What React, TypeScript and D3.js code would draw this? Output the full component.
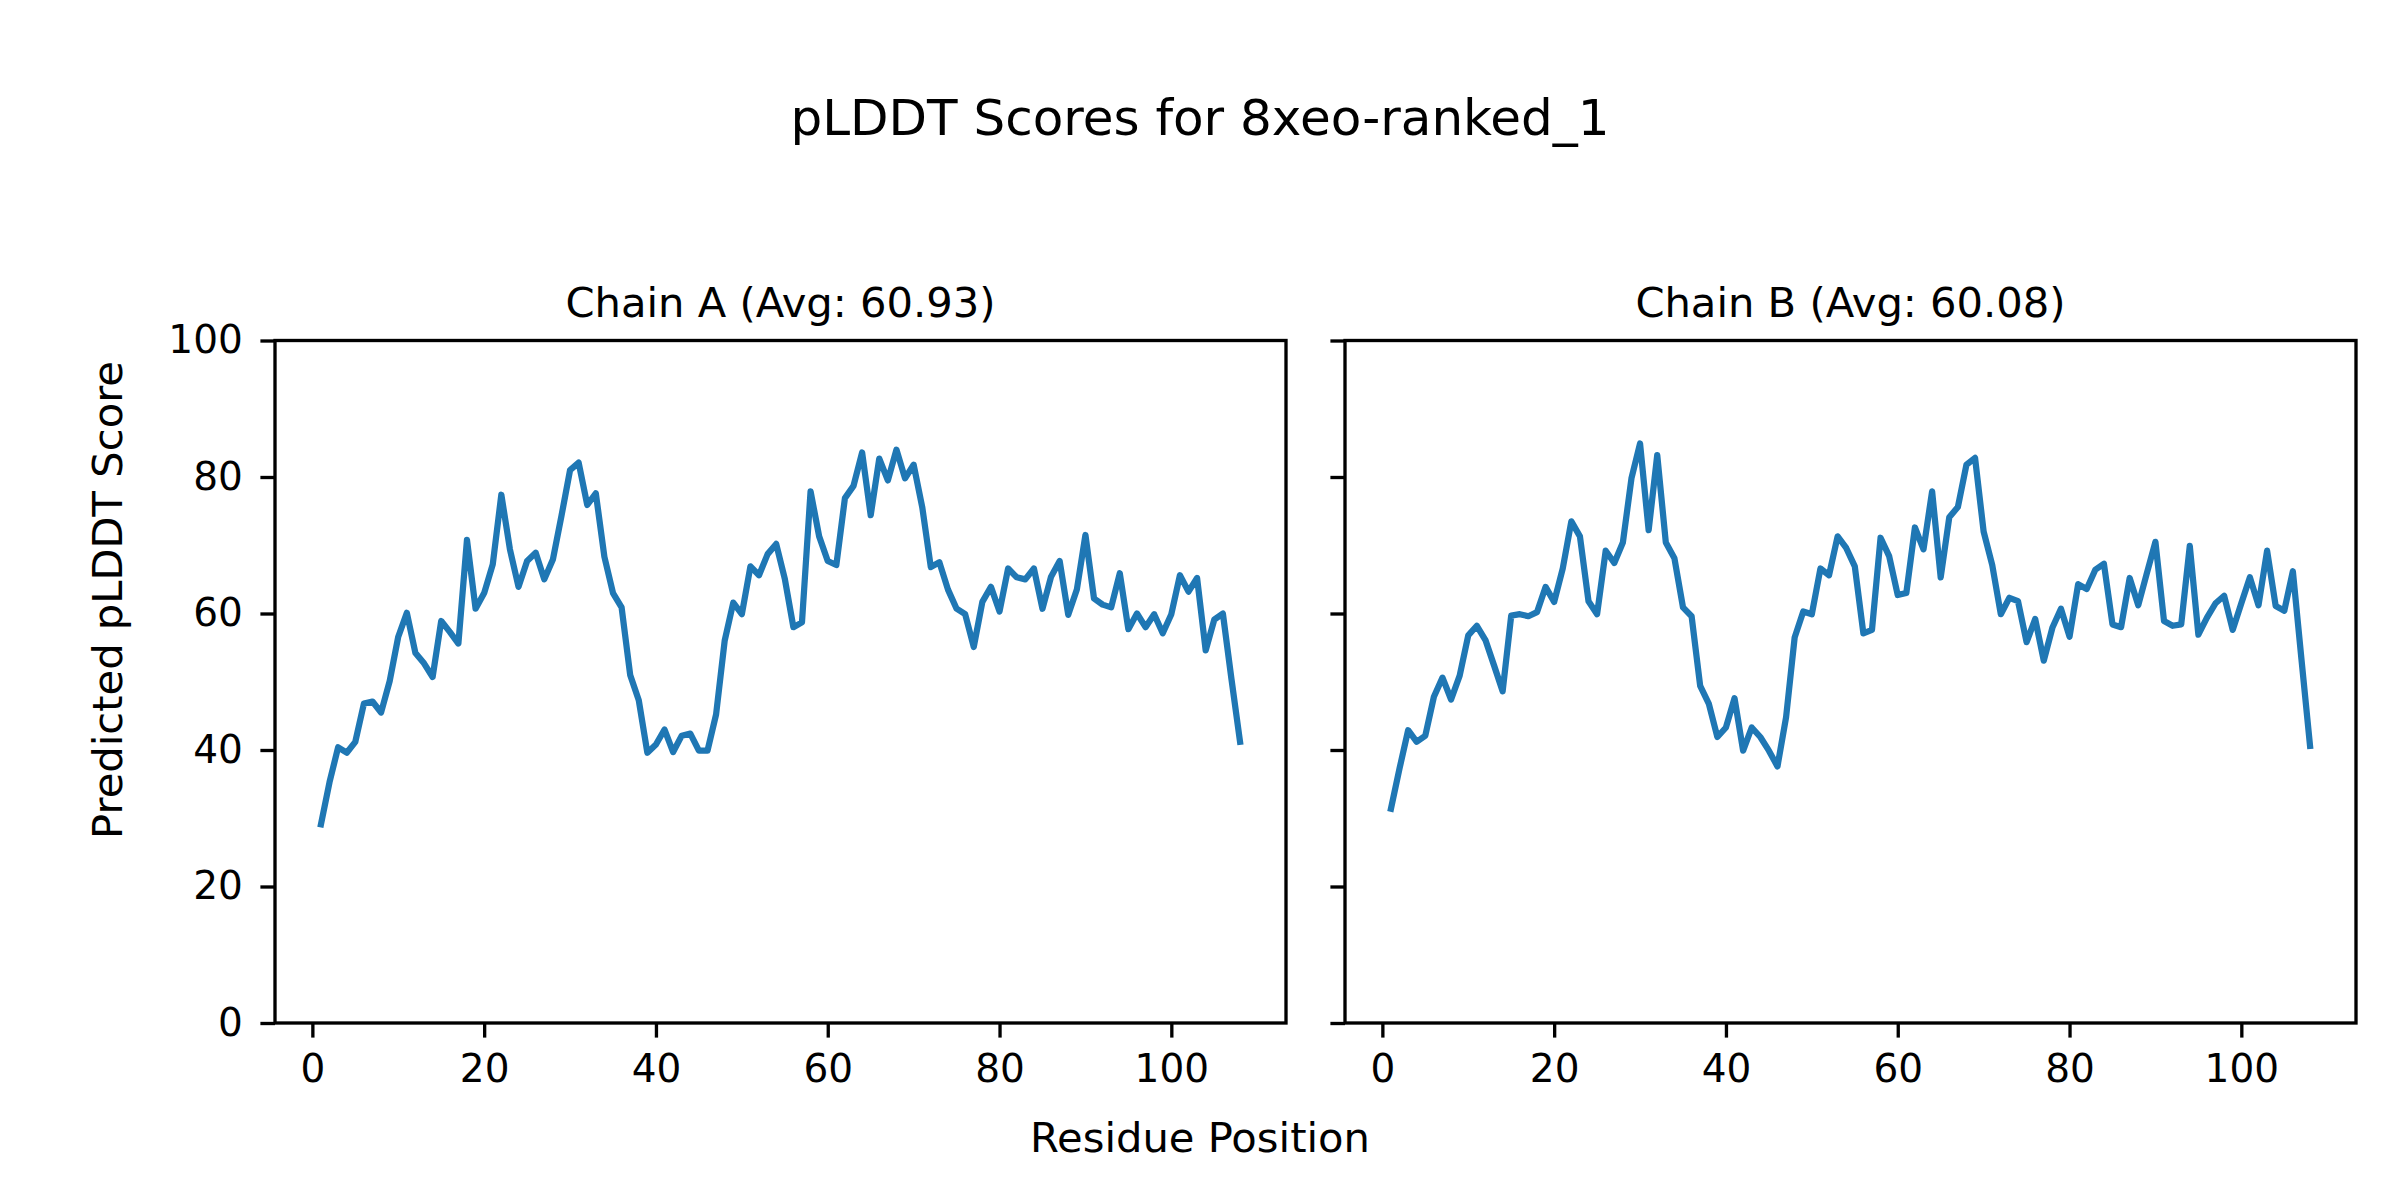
import React, { useEffect, useRef } from 'react';
import * as d3 from 'd3';

// pLDDT per residue
const chainA = [
  29.1, 35.3, 40.4, 39.6, 41.2, 46.8, 47.1, 45.5, 50.1, 56.6,
  60.1, 54.2, 52.7, 50.7, 58.9, 57.3, 55.6, 70.8, 60.7, 63.0,
  67.2, 77.4, 69.4, 63.9, 67.7, 68.9, 65.0, 67.9, 74.3, 81.0,
  82.1, 75.9, 77.6, 68.3, 63.0, 60.9, 51.0, 47.3, 39.6, 40.8,
  43.0, 39.7, 42.1, 42.4, 39.9, 39.9, 45.2, 56.0, 61.6, 59.9,
  66.9, 65.6, 68.7, 70.2, 65.1, 58.0, 58.7, 77.9, 71.3, 67.7,
  67.1, 76.9, 78.7, 83.6, 74.4, 82.7, 79.5, 84.0, 79.8, 81.8,
  75.6, 66.8, 67.5, 63.5, 60.7, 59.9, 55.1, 61.7, 63.9, 60.3,
  66.6, 65.3, 65.0, 66.6, 60.7, 65.4, 67.7, 59.8, 63.5, 71.5,
  62.2, 61.3, 60.9, 65.9, 57.7, 60.0, 58.0, 59.9, 57.1, 59.9,
  65.6, 63.2, 65.2, 54.6, 59.1, 60.0, 50.4, 41.2,
];

const chainB = [
  31.4, 37.3, 42.9, 41.2, 42.1, 47.8, 50.6, 47.4, 50.9, 56.8,
  58.2, 56.1, 52.4, 48.6, 59.7, 59.9, 59.6, 60.2, 63.9, 61.7,
  66.6, 73.5, 71.3, 61.8, 59.9, 69.2, 67.4, 70.4, 79.8, 84.9,
  72.2, 83.2, 70.4, 68.1, 60.9, 59.6, 49.4, 46.8, 41.9, 43.3,
  47.6, 39.9, 43.3, 41.9, 39.9, 37.6, 44.8, 56.5, 60.3, 59.9,
  66.6, 65.6, 71.3, 69.6, 66.9, 57.1, 57.6, 71.1, 68.4, 62.7,
  63.0, 72.6, 69.4, 77.9, 65.3, 74.1, 75.6, 81.8, 82.8, 72.0,
  67.1, 59.9, 62.3, 61.8, 55.8, 59.2, 53.1, 57.9, 60.7, 56.6,
  64.3, 63.6, 66.4, 67.3, 58.4, 58.0, 65.2, 61.2, 65.9, 70.5,
  58.9, 58.2, 58.4, 69.9, 56.9, 59.4, 61.5, 62.6, 57.6, 61.5,
  65.3, 61.2, 69.2, 61.1, 60.4, 66.2, 53.3, 40.6,
];

const chainNames = ['A', 'B'];
const chainAverages = ['60.93', '60.08'];
const xTicks = [0, 20, 40, 60, 80, 100];
const yTicks = [0, 20, 40, 60, 80, 100];

export default function App() {
  const ref = useRef<SVGSVGElement>(null);

  useEffect(() => {
    document.body.style.margin = '0';

    const width = 2400;
    const height = 1200;
    const font = '"DejaVu Sans", sans-serif';
    const lw = 3.33; // 0.8pt at 300 dpi
    const tick = 14.6; // 3.5pt
    const tickFont = 39;

    const top = 340.5;
    const bottom = 1023;
    const panels = [
      { left: 275, right: 1286, values: chainA },
      { left: 1345, right: 2356, values: chainB },
    ];

    const svg = d3.select(ref.current);
    svg.selectAll('*').remove();

    svg
      .append('rect')
      .attr('width', width)
      .attr('height', height)
      .attr('fill', '#ffffff');

    const yScale = d3.scaleLinear().domain([0, 100]).range([bottom, top]);

    panels.forEach((p, i) => {
      const residues = p.values.map((_, j) => j + 1);
      const [lo, hi] = d3.extent(residues) as [number, number];
      const pad = (hi - lo) * 0.05;
      const xScale = d3
        .scaleLinear()
        .domain([lo - pad, hi + pad])
        .range([p.left, p.right]);

      const line = d3
        .line<number>()
        .x((_, j) => xScale(residues[j]))
        .y((d) => yScale(d));

      svg
        .append('path')
        .datum(p.values)
        .attr('d', line)
        .attr('fill', 'none')
        .attr('stroke', '#1f77b4')
        .attr('stroke-width', 6.25)
        .attr('stroke-linejoin', 'round')
        .attr('stroke-linecap', 'square');

      const xAxis = d3
        .axisBottom(xScale)
        .tickValues(xTicks)
        .tickSize(tick)
        .tickSizeOuter(0)
        .tickPadding(tick);

      const gx = svg
        .append('g')
        .attr('transform', `translate(0, ${bottom})`)
        .call(xAxis);
      gx.select('.domain').remove();
      gx.selectAll('line').attr('stroke', '#000').attr('stroke-width', lw);
      gx.selectAll('text')
        .attr('font-family', font)
        .attr('font-size', tickFont)
        .attr('fill', '#000')
        .attr('dy', '0.76em');

      const yAxis = d3
        .axisLeft(yScale)
        .tickValues(yTicks)
        .tickSize(tick)
        .tickSizeOuter(0)
        .tickPadding(tick);

      const gy = svg
        .append('g')
        .attr('transform', `translate(${p.left}, 0)`)
        .call(yAxis);
      gy.select('.domain').remove();
      gy.selectAll('line').attr('stroke', '#000').attr('stroke-width', lw);
      if (i === 0) {
        gy.selectAll('text')
          .attr('font-family', font)
          .attr('font-size', tickFont)
          .attr('fill', '#000')
          .attr('dx', -3);
      } else {
        gy.selectAll('text').remove();
      }

      svg
        .append('rect')
        .attr('x', p.left)
        .attr('y', top)
        .attr('width', p.right - p.left)
        .attr('height', bottom - top)
        .attr('fill', 'none')
        .attr('stroke', '#000')
        .attr('stroke-width', lw);

      svg
        .append('text')
        .attr('x', (p.left + p.right) / 2)
        .attr('y', 317)
        .attr('text-anchor', 'middle')
        .attr('font-family', font)
        .attr('font-size', 41.67)
        .text(`Chain ${chainNames[i]} (Avg: ${chainAverages[i]})`);
    });

    svg
      .append('text')
      .attr('x', width / 2)
      .attr('y', 135)
      .attr('text-anchor', 'middle')
      .attr('font-family', font)
      .attr('font-size', 50)
      .text('pLDDT Scores for 8xeo-ranked_1');

    svg
      .append('text')
      .attr('x', width / 2)
      .attr('y', 1152)
      .attr('text-anchor', 'middle')
      .attr('font-family', font)
      .attr('font-size', 41.67)
      .text('Residue Position');

    svg
      .append('text')
      .attr('transform', `translate(122, ${height / 2}) rotate(-90)`)
      .attr('text-anchor', 'middle')
      .attr('font-family', font)
      .attr('font-size', 41.67)
      .text('Predicted pLDDT Score');
  }, []);

  return <svg ref={ref} width={2400} height={1200} style={{ display: 'block' }} />;
}
